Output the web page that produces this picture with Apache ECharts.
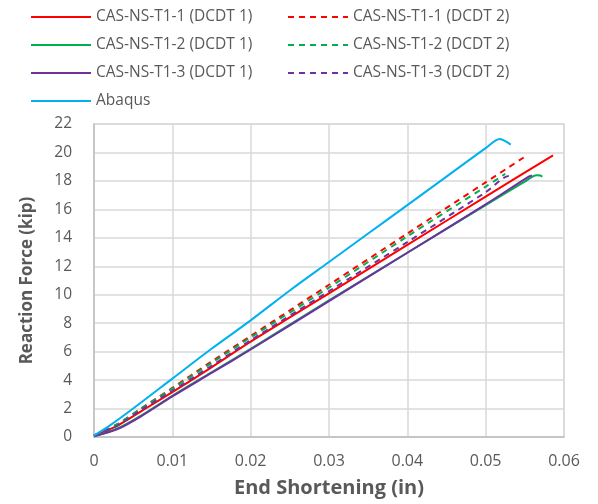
<!DOCTYPE html>
<html>
<head>
<meta charset="utf-8">
<script src="https://cdn.jsdelivr.net/npm/echarts@6/dist/echarts.min.js"></script>
<style>
  html, body { margin: 0; padding: 0; background: #fff; }
  #chart { width: 598px; height: 504px; }
</style>
</head>
<body>
<div id="chart"></div>
<script>
// end shortening (in), reaction force (kip)
const t1Dcdt1 = [[0, 0.1], [0.003, 0.8], [0.006, 1.8], [0.01, 3.15], [0.015, 4.9], [0.02, 6.7], [0.03, 10.1], [0.04, 13.5], [0.05, 16.9], [0.0586, 19.8]];
const t1Dcdt2 = [[0, 0.1], [0.003, 0.9], [0.006, 2.0], [0.01, 3.45], [0.015, 5.3], [0.02, 7.1], [0.03, 10.7], [0.04, 14.3], [0.05, 17.9], [0.055, 19.7]];
const t2Dcdt1 = [[0, 0.05], [0.003, 0.6], [0.006, 1.5], [0.01, 2.9], [0.015, 4.55], [0.02, 6.2], [0.03, 9.6], [0.04, 12.95], [0.05, 16.3], [0.055, 17.95], [0.0565, 18.4], [0.057, 18.38], [0.0572, 18.28]];
const t2Dcdt2 = [[0, 0.1], [0.003, 0.9], [0.006, 2.0], [0.01, 3.4], [0.015, 5.2], [0.02, 7.0], [0.03, 10.5], [0.04, 14.1], [0.05, 17.6], [0.0525, 18.5]];
const t3Dcdt1 = [[0, 0.05], [0.003, 0.55], [0.006, 1.45], [0.01, 2.85], [0.015, 4.5], [0.02, 6.15], [0.03, 9.55], [0.04, 12.95], [0.05, 16.35], [0.0555, 18.3], [0.0559, 18.38]];
const t3Dcdt2 = [[0, 0.1], [0.003, 0.8], [0.006, 1.9], [0.01, 3.25], [0.015, 5.0], [0.02, 6.8], [0.03, 10.25], [0.04, 13.7], [0.05, 17.2], [0.0531, 18.36], [0.0535, 18.17]];
const abaqus = [[0, 0.1], [0.002, 0.8], [0.005, 2.0], [0.01, 4.1], [0.015, 6.2], [0.02, 8.2], [0.025, 10.3], [0.03, 12.3], [0.035, 14.3], [0.04, 16.3], [0.045, 18.3], [0.05, 20.3], [0.0518, 20.95], [0.0525, 20.8], [0.0532, 20.55]];

const names = ['CAS-NS-T1-1 (DCDT 1)', 'CAS-NS-T1-1 (DCDT 2)', 'CAS-NS-T1-2 (DCDT 1)', 'CAS-NS-T1-2 (DCDT 2)', 'CAS-NS-T1-3 (DCDT 1)', 'CAS-NS-T1-3 (DCDT 2)', 'Abaqus'];
const datasets = [t1Dcdt1, t1Dcdt2, t2Dcdt1, t2Dcdt2, t3Dcdt1, t3Dcdt2, abaqus];
const colors = ['#ff0000', '#ff0000', '#00b050', '#00b050', '#7030a0', '#7030a0', '#00b0f0'];
const dashed = [false, true, false, true, false, true, false];

const font = 'Open Sans';
const grey = '#595959';

const myChart = echarts.init(document.getElementById('chart'));

const legendBase = {
  orient: 'vertical',
  top: 4,
  itemWidth: 60,
  itemHeight: 14,
  itemGap: 12,
  itemStyle: {opacity: 0},
  textStyle: {fontFamily: font, fontSize: 15.5, color: grey}
};

const option = {
  animation: false,
  legend: [
    Object.assign({}, legendBase, {left: 25, data: [names[0], names[2], names[4], names[6]]}),
    Object.assign({}, legendBase, {left: 282, data: [names[1], names[3], names[5]]})
  ],
  grid: {
    left: 94,
    right: 34,
    top: 124,
    bottom: 67,
    show: true,
    borderColor: '#d9d9d9',
    borderWidth: 1.5
  },
  xAxis: {
    type: 'value',
    min: 0,
    max: 0.06,
    interval: 0.01,
    name: 'End Shortening (in)',
    nameLocation: 'middle',
    nameGap: 41,
    nameTextStyle: {fontFamily: font, fontSize: 20, fontWeight: 'bold', color: grey},
    axisLine: {lineStyle: {color: '#bfbfbf', width: 1.5}},
    axisTick: {show: false},
    axisLabel: {
      fontFamily: font, fontSize: 16, color: grey, margin: 16,
      formatter: v => String(+v.toFixed(2))
    },
    splitLine: {lineStyle: {color: '#d9d9d9', width: 1.5}}
  },
  yAxis: {
    type: 'value',
    min: 0,
    max: 22,
    interval: 2,
    name: 'Reaction Force (kip)',
    nameLocation: 'middle',
    nameGap: 58,
    nameTextStyle: {fontFamily: font, fontSize: 17, fontWeight: 'bold', color: grey},
    axisLine: {show: true, lineStyle: {color: '#bfbfbf', width: 1.5}},
    axisTick: {show: false},
    axisLabel: {fontFamily: font, fontSize: 15.5, color: grey, margin: 22},
    splitLine: {lineStyle: {color: '#d9d9d9', width: 1.5}}
  },
  series: datasets.map((d, i) => ({
    name: names[i],
    type: 'line',
    data: d,
    symbol: 'none',
    smooth: 0.3,
    color: colors[i],
    lineStyle: {
      color: colors[i],
      width: 2,
      type: dashed[i] ? [6, 5] : 'solid'
    },
    z: i === 6 ? 3 : 2
  }))
};

myChart.setOption(option);
</script>
</body>
</html>
